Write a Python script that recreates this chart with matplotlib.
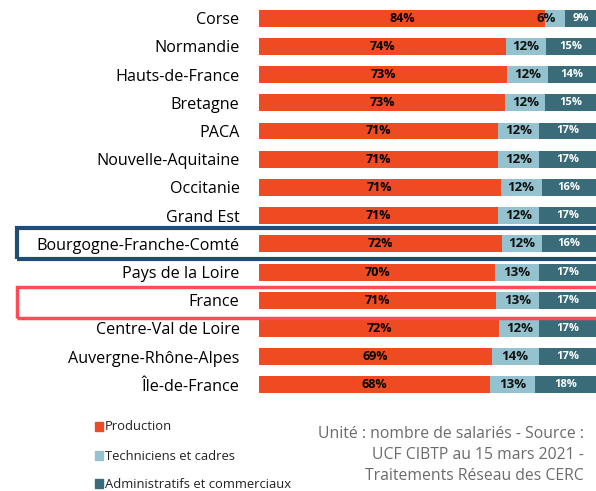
import matplotlib
matplotlib.use("Agg")
import matplotlib.pyplot as plt
import numpy as np
from matplotlib.patches import Rectangle

plt.rcParams['font.family'] = ['Open Sans', 'DejaVu Sans']

regions = ["Corse", "Normandie", "Hauts-de-France", "Bretagne", "PACA",
           "Nouvelle-Aquitaine", "Occitanie", "Grand Est",
           "Bourgogne-Franche-Comté", "Pays de la Loire", "France",
           "Centre-Val de Loire", "Auvergne-Rhône-Alpes", "Île-de-France"]
production = [84, 74, 73, 73, 71, 71, 71, 71, 72, 70, 71, 72, 69, 68]
techniciens = [6, 12, 12, 12, 12, 12, 12, 12, 12, 13, 13, 12, 14, 13]
administratifs = [9, 15, 14, 15, 17, 17, 16, 17, 16, 17, 17, 17, 17, 18]

c_prod = "#EE4B22"
c_tech = "#94C2CE"
c_admin = "#396B78"

W, H = 596, 491
fig = plt.figure(figsize=(W / 100, H / 100), dpi=100)
ax = fig.add_axes([259 / W, 1 - 399 / H, 337 / W, 395 / H])

p = np.array(production, float)
t = np.array(techniciens, float)
a = np.array(administratifs, float)
tot = p + t + a
pw, tw, aw = p / tot * 100, t / tot * 100, a / tot * 100
y = np.arange(len(regions))

ax.barh(y, pw, height=0.6, color=c_prod)
ax.barh(y, tw, left=pw, height=0.6, color=c_tech)
ax.barh(y, aw, left=pw + tw, height=0.6, color=c_admin)

for i in range(len(regions)):
    ax.text(pw[i] / 2, y[i], f"{production[i]}%", ha="center", va="center",
            fontsize=9, fontweight="bold", color="black")
    tx = pw[i] + tw[i] / 2
    if techniciens[i] < 10:
        tx = pw[i] + 0.3
    ax.text(tx, y[i], f"{techniciens[i]}%", ha="center", va="center",
            fontsize=9.5, fontweight="bold", color="#111111")
    ax.text(pw[i] + tw[i] + aw[i] / 2, y[i], f"{administratifs[i]}%",
            ha="center", va="center", fontsize=8, fontweight="bold",
            color="white")

ax.set_xlim(0, 100)
ax.set_ylim(len(regions) - 0.5, -0.5)
ax.set_yticks(y)
ax.set_yticklabels(regions, fontsize=11.6)
ax.tick_params(axis="y", length=0, pad=14)
ax.set_xticks([])
for s in ax.spines.values():
    s.set_visible(False)

# highlight boxes
fig.patches.append(Rectangle((17 / W, 1 - 259 / H), 590 / W, 31 / H,
                             transform=fig.transFigure, fill=False,
                             edgecolor="#1F4D78", linewidth=3))
fig.patches.append(Rectangle((17 / W, 1 - 318 / H), 590 / W, 31 / H,
                             transform=fig.transFigure, fill=False,
                             edgecolor="#FF4C55", linewidth=2.5))

# legend
leg = [("Production", c_prod, 427), ("Techniciens et cadres", c_tech, 456),
       ("Administratifs et commerciaux", c_admin, 484)]
for lab, col, yy in leg:
    fig.patches.append(Rectangle((95 / W, 1 - (yy + 4) / H), 8 / W, 9 / H,
                                 transform=fig.transFigure, color=col))
    fig.text(105 / W, 1 - yy / H, lab, fontsize=9.4, va="center", ha="left",
             color="#222222")

fig.text(584 / W, 1 - 455 / H,
         "Unité : nombre de salariés - Source :\nUCF CIBTP au 15 mars 2021 -\nTraitements Réseau des CERC",
         ha="right", va="center", fontsize=11.3, color="#6b6b6b",
         linespacing=1.45)

fig.savefig("out.png", dpi=100)
